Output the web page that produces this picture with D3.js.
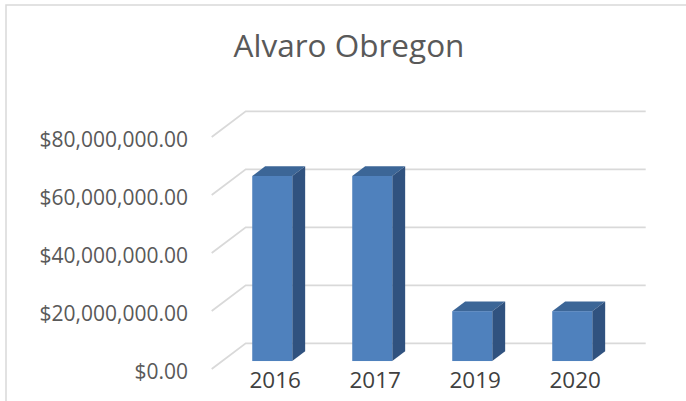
<!DOCTYPE html>
<html>
<head>
<meta charset="utf-8">
<script src="https://cdn.jsdelivr.net/npm/d3@7"></script>
<style>
  html, body { margin: 0; padding: 0; background: #ffffff; }
  svg { display: block; }
</style>
</head>
<body>
<div id="chart"></div>
<script>
const title = "Alvaro Obregon";
const categories = ["2016", "2017", "2019", "2020"];
const values = [63800000, 63800000, 17200000, 17200000];
const yTicks = [0, 20000000, 40000000, 60000000, 80000000];

const W = 686, H = 401;
const depth = { dx: 34, dy: -25.7 };   // oblique projection of the floor depth
const barF0 = 0.31, barF1 = 0.69;      // bar position within the depth

const svg = d3.select("#chart").append("svg").attr("width", W).attr("height", H);

// chart border
svg.append("rect")
  .attr("x", 6).attr("y", 5).attr("width", W + 20).attr("height", H + 20)
  .attr("fill", "#ffffff").attr("stroke", "#d9d9d9").attr("stroke-width", 1.5);

const x = d3.scaleBand().domain(categories).range([211.7, 611.7])
  .paddingInner(0.6).paddingOuter(0.3);
const y = d3.scaleLinear().domain([0, 80000000]).range([369, 137]);

const P = (px, v, f) => [px + f * depth.dx, y(v) + f * depth.dy];

// gridlines: side wall diagonal + back wall horizontal
const grid = svg.append("g").attr("stroke", "#d9d9d9").attr("stroke-width", 1.8).attr("fill", "none");
yTicks.forEach(t => {
  const a = P(x.range()[0], t, 0), b = P(x.range()[0], t, 1), c = P(x.range()[1], t, 1);
  grid.append("path").attr("d", d3.line()([a, b, c]));
});

// y-axis labels
const fmt = d3.format("$,.2f");
svg.append("g").selectAll("text").data(yTicks).join("text")
  .attr("x", 188).attr("y", d => y(d) + 9.5)
  .attr("text-anchor", "end")
  .attr("font-family", "'Open Sans', sans-serif").attr("font-size", 21)
  .attr("fill", "#595959")
  .text(d => fmt(d));

// bars
const bars = svg.append("g");
categories.forEach((c, i) => {
  const v = values[i];
  const xl = x(c), xr = x(c) + x.bandwidth();
  const poly = pts => pts.map(p => p.join(",")).join(" ");
  bars.append("polygon").attr("points", poly([P(xl, v, barF0), P(xr, v, barF0), P(xr, v, barF1), P(xl, v, barF1)]))
    .attr("fill", "#3c6697");
  bars.append("polygon").attr("points", poly([P(xr, 0, barF0), P(xr, v, barF0), P(xr, v, barF1), P(xr, 0, barF1)]))
    .attr("fill", "#30527f");
  const f0 = P(xl, v, barF0), f1 = P(xr, 0, barF0);
  bars.append("rect").attr("x", f0[0]).attr("y", f0[1])
    .attr("width", f1[0] - f0[0]).attr("height", f1[1] - f0[1])
    .attr("fill", "#4f81bd");
});

// category labels
svg.append("g").selectAll("text").data(categories).join("text")
  .attr("x", d => x(d) + barF0 * depth.dx + x.bandwidth() / 2 + 3)
  .attr("y", 388)
  .attr("text-anchor", "middle")
  .attr("font-family", "'Open Sans', sans-serif").attr("font-size", 22.5)
  .attr("fill", "#404040")
  .text(d => d);

// title
svg.append("text")
  .attr("x", 349).attr("y", 57)
  .attr("text-anchor", "middle")
  .attr("font-family", "'Open Sans', sans-serif").attr("font-size", 31.5)
  .attr("fill", "#595959")
  .text(title);
</script>
</body>
</html>
